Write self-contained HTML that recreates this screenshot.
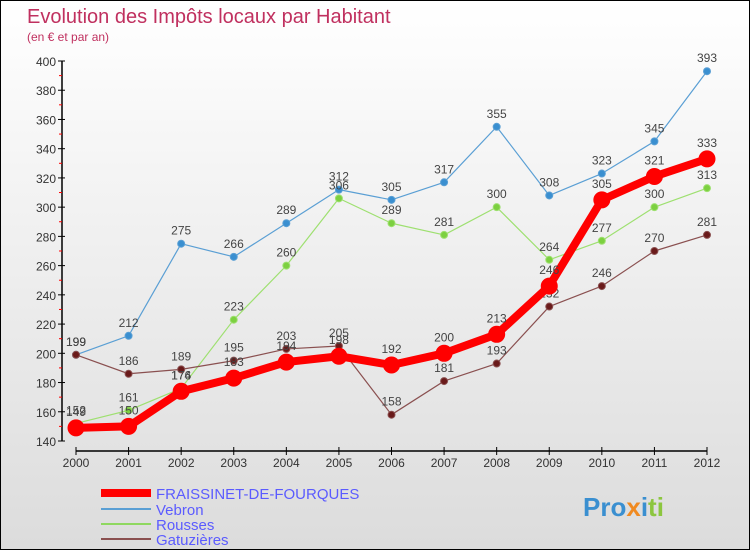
<!DOCTYPE html>
<html><head><meta charset="utf-8"><style>
body{margin:0}
#c{position:relative;width:750px;height:550px;box-sizing:border-box;border:1px solid #000;background:linear-gradient(#fff,#dcdcdc);font-family:"Liberation Sans",sans-serif;overflow:hidden}
</style></head><body>
<div id="c">
<svg width="750" height="550" style="position:absolute;left:0;top:0" id="svg">
<text x="26" y="22" font-size="20" fill="#c0305f">Evolution des Impôts locaux par Habitant</text>
<text x="26" y="40" font-size="12" fill="#c0305f">(en € et par an)</text>
<g id="axes"></g><g id="series"></g>
<g>
<line x1="100" y1="492" x2="150" y2="492" stroke="#f00" stroke-width="8"/>
<text x="155" y="498" font-size="15" fill="#5b5bff">FRAISSINET-DE-FOURQUES</text>
<line x1="100" y1="508" x2="150" y2="508" stroke="#5a9fd4" stroke-width="2"/>
<text x="155" y="514" font-size="15" fill="#5b5bff">Vebron</text>
<line x1="100" y1="523" x2="150" y2="523" stroke="#8fd860" stroke-width="2"/>
<text x="155" y="529" font-size="15" fill="#5b5bff">Rousses</text>
<line x1="100" y1="538" x2="150" y2="538" stroke="#8a5050" stroke-width="2"/>
<text x="155" y="544" font-size="15" fill="#5b5bff">Gatuzières</text>
</g>
<text x="582" y="515" font-size="26" font-weight="bold"><tspan fill="#3a8fd0">Pro</tspan><tspan fill="#f08a20">x</tspan><tspan fill="#3a8fd0">i</tspan><tspan fill="#8cc63f">ti</tspan></text>
</svg>
</div>
<script>
const years=[2000,2001,2002,2003,2004,2005,2006,2007,2008,2009,2010,2011,2012];
const yTicks=[140,160,180,200,220,240,260,280,300,320,340,360,380,400];
const fraissinet=[149,150,174,183,194,198,192,200,213,246,305,321,333];
const vebron=[199,212,275,266,289,312,305,317,355,308,323,345,393];
const rousses=[152,161,176,223,260,306,289,281,300,264,277,300,313];
const gatuzieres=[199,186,189,195,203,205,158,181,193,232,246,270,281];
const NS="http://www.w3.org/2000/svg";
const xS=i=>75+i*(706-75)/(years.length-1);
const yS=v=>440-(v-140)*380/260;
function mk(tag,attrs,parent){const e=document.createElementNS(NS,tag);for(const k in attrs)e.setAttribute(k,attrs[k]);parent.appendChild(e);return e;}
const ax=document.getElementById('axes');
let a=mk('line',{x1:61,y1:60,x2:61,y2:440,stroke:'#000','stroke-width':1.5},ax);


yTicks.forEach(v=>{const y=yS(v);
mk('line',{x1:57,y1:y,x2:64,y2:y,stroke:'#000'},ax);
mk('line',{x1:58,y1:y+14.6,x2:61,y2:y+14.6,stroke:v>140?'#f00':'none'},ax);
const t=mk('text',{x:55,y:y+5,'font-size':12,fill:'#333','text-anchor':'end'},ax);t.textContent=v;

});
a=mk('line',{x1:75,y1:450,x2:706,y2:450,stroke:'#000','stroke-width':1.5},ax);


years.forEach((yr,i)=>{const x=xS(i);mk('line',{x1:x,y1:446,x2:x,y2:454,stroke:'#000'},ax);
const t=mk('text',{x:x,y:466,'font-size':12,fill:'#333','text-anchor':'middle'},ax);t.textContent=yr;

});
const sg=document.getElementById('series');
function series(data,name,color,w,r,dot){
const g=mk('g',{},sg);


const pl=mk('polyline',{points:data.map((v,i)=>xS(i)+','+yS(v)).join(' '),fill:'none',stroke:color,'stroke-width':w,'stroke-linejoin':'round'},g);


data.forEach((v,i)=>{const c=mk('circle',{cx:xS(i),cy:yS(v),r:r,fill:dot,stroke:color,'stroke-width':1},g);


const t=mk('text',{x:xS(i),y:yS(v)-9-(r>5?3:0),'font-size':12,fill:'#444','text-anchor':'middle'},g);t.textContent=v;

});}
series(vebron,'vebron','#5a9fd4',1.2,3.5,'#3a8fd0');
series(rousses,'rousses','#9ee070',1.2,3.5,'#7cd040');
series(gatuzieres,'gatuzieres','#8a5050',1.2,3.5,'#6a1a1a');
series(fraissinet,'fraissinet','#f00',8,8,'#f00');
</script>
</body></html>
